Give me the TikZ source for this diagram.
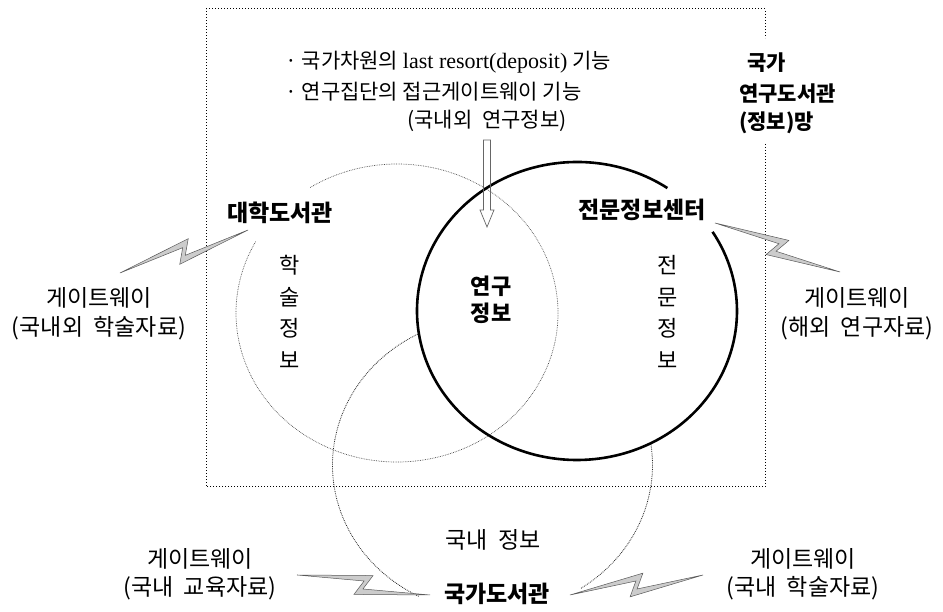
\documentclass[tikz,border=0pt]{standalone}
\usepackage{fontspec}
\setmainfont{Liberation Serif}
\newfontfamily\kr{Noto Sans CJK KR}
\usetikzlibrary{calc}
\newcommand\wsp{\hspace{0.45em}}
\newcommand\zbolt[2]{%
  \filldraw[boltst] (#1) -- ($(#1)!0.5657!8.13:(#2)$) -- ($(#1)!0.5009!-3.43:(#2)$) -- (#2)
    -- ($(#1)!0.4472!-10.30:(#2)$) -- ($(#1)!0.5009!3.43:(#2)$) -- cycle;}
\begin{document}
\begin{tikzpicture}[x=1pt,y=1pt,
  lbl/.style={font=\kr\fontsize{23}{28.5}\selectfont, inner sep=0pt, align=center},
  toplbl/.style={font=\kr\fontsize{21}{24}\selectfont, inner sep=0pt},
  blbl/.style={font=\kr\bfseries\fontsize{23}{27}\selectfont, inner sep=0pt, align=center},
  rlbl/.style={font=\kr\bfseries\fontsize{21}{24}\selectfont, inner sep=0pt},
  vlbl/.style={font=\kr\fontsize{22}{31.5}\selectfont, align=center, inner sep=0pt},
  rectline/.style={dotted, line width=1pt},
  thinring/.style={densely dotted, line width=0.7pt, black!70},
  botring/.style={densely dotted, line width=0.8pt, black!85},
  boldring/.style={line width=2.6pt},
  boltst/.style={draw=black!65, line width=0.5pt, fill=black!20},
  hollow/.style={draw=black!60, line width=0.7pt}]
\useasboundingbox (0,0) rectangle (943,612);
\fill[white] (0,0) rectangle (943,612);

% network frame
\draw[rectline] (765,468) -- (765,125) -- (206,125) -- (206,603) -- (765,603) -- (765,574);

% circles
\draw[thinring] (397,299) ++(151.4:161 and 149)
  arc[start angle=151.4, end angle=482.8, x radius=161, y radius=149];
\draw[botring] (492.5,147) ++(117.9:160 and 148)
  arc[start angle=117.9, end angle=242.7, x radius=160, y radius=148];
\draw[botring] (492.5,147) ++(303.6:160 and 148)
  arc[start angle=303.6, end angle=368.5, x radius=160, y radius=148];
\draw[boldring] (577,301) ++(55.6:160 and 149)
  arc[start angle=55.6, end angle=392.1, x radius=160, y radius=149];

% hollow arrow
\draw[hollow] (483.5,472) -- (483.5,402) -- (480,402) -- (487,385) -- (494,402)
  -- (490.5,402) -- (490.5,472) -- cycle;

% top texts
\node[toplbl, anchor=west] (t1) at (285,550) {· 국가차원의 {\rmfamily\fontsize{22}{24}\selectfont last resort(deposit)} 기능};
\node[toplbl, anchor=west] (t2) at (285,520) {· 연구집단의 접근게이트웨이 기능};
\node[toplbl] (t3) at (487,491) {(국내외\wsp 연구정보)};

\node[rlbl, anchor=west] (n1) at (747,549) {국가};
\node[rlbl, anchor=west] (n2) at (739,518) {연구도서관};
\node[rlbl, anchor=west] (n3) at (739,489) {(정보)망};

% labels
\node[blbl] (univ) at (280,399) {대학도서관};
\node[blbl] (spec) at (642,402) {전문정보센터};
\node[vlbl] (v1) at (290,300) {학\\술\\정\\보};
\node[vlbl] (v2) at (668,300) {전\\문\\정\\보};
\node[font=\kr\bfseries\fontsize{22}{27}\selectfont, align=center, inner sep=0pt] (res) at (491,312) {연구\\정보};
\node[lbl] (dom) at (493,72) {국내\wsp 정보};
\node[blbl] (nat) at (497,18) {국가도서관};

\node[lbl] (g1) at (99,298) {게이트웨이\\(국내외\wsp 학술자료)};
\node[lbl] (g2) at (857,298) {게이트웨이\\(해외\wsp 연구자료)};
\node[lbl] (g3) at (200,38) {게이트웨이\\(국내\wsp 교육자료)};
\node[lbl] (g4) at (803,38) {게이트웨이\\(국내\wsp 학술자료)};

% lightning bolts
\coordinate (b1t) at (120,339); \coordinate (b1p) at (248,382);
\coordinate (b2t) at (715,389); \coordinate (b2p) at (840,340);
\coordinate (b3t) at (297,37);  \coordinate (b3p) at (430,17);
\coordinate (b4t) at (570,17);  \coordinate (b4p) at (703,37);
\zbolt{b1t}{b1p}
\zbolt{b2t}{b2p}
\zbolt{b3t}{b3p}
\zbolt{b4t}{b4p}
\end{tikzpicture}
\end{document}
